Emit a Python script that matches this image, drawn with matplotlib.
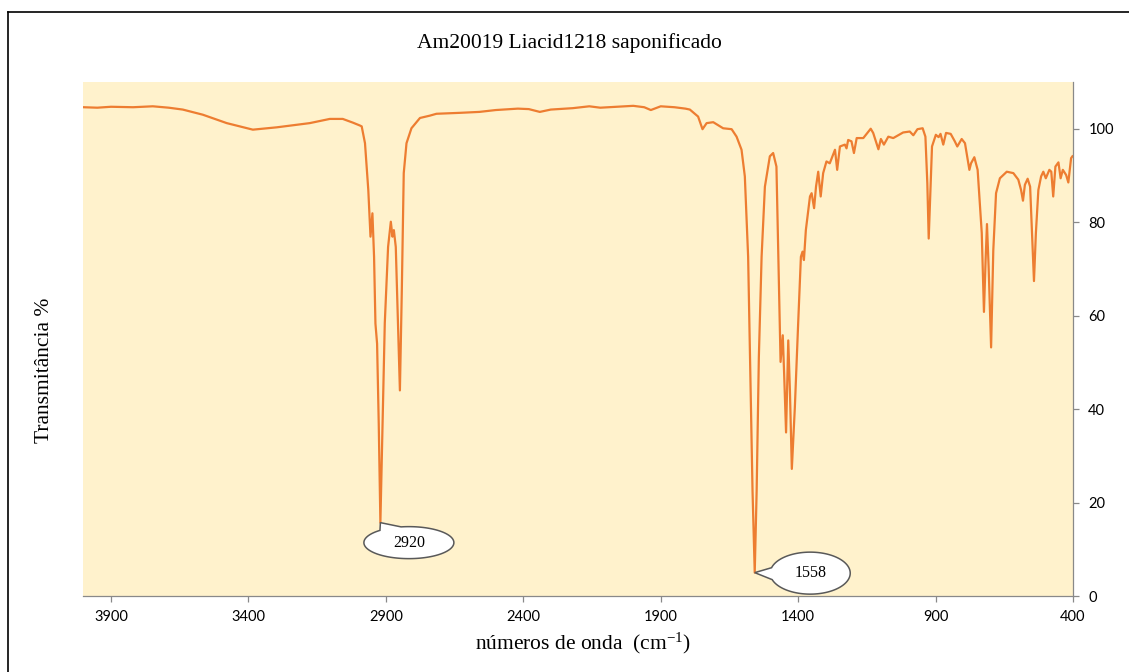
import matplotlib
matplotlib.use("Agg")
import matplotlib.pyplot as plt
import numpy as np
from matplotlib.patches import Polygon
from matplotlib.lines import Line2D
from matplotlib.transforms import ScaledTranslation

plt.rcParams['mathtext.fontset'] = 'custom'
plt.rcParams['mathtext.rm'] = 'Liberation Serif'
plt.rcParams['mathtext.default'] = 'regular'

# spectrum: wavenumber (cm-1), transmittance (%)
wavenumber = [4000, 3950, 3900, 3820, 3748, 3690, 3639, 3566, 3479, 3384, 3297, 3177, 3104, 3057, 3020, 2995,
              2988, 2976, 2964, 2956, 2949, 2943, 2938, 2932, 2926, 2920, 2912, 2904, 2892,
              2882, 2876, 2871, 2864, 2856, 2849, 2842, 2835, 2825, 2807, 2776, 2740, 2716,
              2631, 2560, 2500, 2420, 2380, 2340, 2300, 2220, 2160, 2120, 2060, 2000, 1960,
              1936, 1900, 1850, 1810, 1794, 1764, 1748, 1733, 1709, 1673, 1642, 1624, 1606,
              1594, 1582, 1573, 1566, 1558, 1551, 1543, 1533, 1521, 1503, 1491, 1479, 1472,
              1464, 1456, 1451, 1444, 1436, 1430, 1423, 1412, 1400, 1390, 1384, 1379, 1372,
              1357, 1351, 1342, 1335, 1327, 1318, 1309, 1297, 1285, 1266, 1258, 1248, 1230,
              1224, 1218, 1206, 1197, 1187, 1163, 1136, 1127, 1108, 1099, 1088, 1072, 1054,
              1018, 994, 981, 966, 947, 937, 930, 925, 920, 913, 899, 889, 882, 872, 862,
              845, 830, 821, 805, 793, 777, 771, 759, 747, 732, 724, 718, 713, 707, 698,
              690, 680, 666, 641, 617, 599, 589, 582, 575, 565, 556, 549, 542, 535, 526,
              516, 508, 499, 486, 479, 472, 464, 453, 445, 437, 425, 417, 407, 402]
transmittance = [104.6, 104.5, 104.7, 104.6, 104.8, 104.5, 104.1, 103.0, 101.2, 99.8, 100.3, 101.2, 102.1, 102.1, 101.3, 100.7,
                 100.5, 96.9, 86.9, 76.9, 81.9, 72.6, 58.3, 54.0, 36.9, 15.7, 36.9, 58.4, 74.7,
                 80.1, 76.9, 78.3, 74.7, 58.4, 44.0, 65.5, 90.5, 96.9, 100.1, 102.3, 102.8, 103.2,
                 103.4, 103.6, 104.0, 104.3, 104.2, 103.6, 104.1, 104.4, 104.8, 104.5, 104.7, 104.9, 104.6,
                 104.0, 104.8, 104.6, 104.3, 104.1, 102.6, 99.9, 101.2, 101.4, 100.1, 99.9, 98.3, 95.5,
                 89.8, 72.6, 44.0, 22.5, 5.0, 22.5, 51.1, 72.6, 87.6, 94.1, 94.8, 91.9, 72.6,
                 50.1, 55.8, 47.6, 35.0, 54.7, 44.0, 27.2, 40.4, 58.3, 72.6, 73.7, 71.9, 78.3,
                 85.5, 86.2, 83.0, 87.6, 90.8, 85.5, 90.5, 93.0, 92.6, 95.5, 91.2, 96.2, 96.6,
                 95.8, 97.6, 97.3, 94.8, 98.0, 98.0, 100.0, 99.1, 95.6, 97.8, 96.6, 98.3, 98.0,
                 99.2, 99.4, 98.6, 99.9, 100.1, 98.3, 88.3, 76.5, 84.8, 96.2, 98.7, 98.2, 98.9, 96.6, 99.1,
                 98.9, 97.3, 96.2, 97.8, 96.9, 91.2, 92.6, 93.9, 91.2, 77.7, 60.8, 71.9, 79.6, 70.5, 53.2,
                 74.0, 86.2, 89.4, 90.8, 90.5, 89.1, 86.9, 84.6, 88.0, 89.3, 87.6, 77.7, 67.4, 77.7, 86.9,
                 89.8, 90.8, 89.4, 91.2, 90.8, 85.5, 91.9, 92.8, 89.4, 91.2, 90.1, 88.5, 93.7, 94.1]

x_ticks = [3900, 3400, 2900, 2400, 1900, 1400, 900, 400]
y_ticks = [0, 20, 40, 60, 80, 100]

peak_labels = ["2920", "1558"]
peak_pos = [(2920, 15.7), (1558, 5.0)]

title = "Am20019 Liacid1218 saponificado"
xlabel = r"números de onda  (cm$^{-1}$)"
ylabel = "Transmitância %"

serif = "Liberation Serif"
tickfont = "Lato"

fig = plt.figure(figsize=(11.29, 6.72), dpi=100)
ax = fig.add_axes([83 / 1129, 1 - 596 / 672, (1073 - 83) / 1129, (596 - 82) / 672])
ax.set_facecolor('#FFF2CC')

ax.plot(wavenumber, transmittance, color='#ED7D31', lw=1.6, solid_joinstyle='round')

ax.set_xlim(4002, 400)
ax.set_ylim(0, 110)
ax.set_xticks(x_ticks)
ax.set_yticks(y_ticks)
ax.yaxis.tick_right()

for s in ['top', 'left']:
    ax.spines[s].set_visible(False)
for s in ['right', 'bottom']:
    ax.spines[s].set_color('#898989')
    ax.spines[s].set_linewidth(0.9)

ax.tick_params(axis='both', colors='#898989', labelcolor='black', length=4, width=0.9,
               direction='out')
ax.tick_params(axis='x', pad=6)
ax.tick_params(axis='y', pad=7)
for lab in ax.get_xticklabels() + ax.get_yticklabels():
    lab.set_fontfamily(tickfont)
    lab.set_fontsize(10.5)

fig.text(569 / 1129, 1 - 43 / 672, title, ha='center', va='center',
         fontfamily=serif, fontsize=15.5)
fig.text(583 / 1129, 1 - 643 / 672, xlabel, ha='center', va='center',
         fontfamily=serif, fontsize=15.5)
fig.text(45 / 1129, 1 - 370 / 672, ylabel, ha='center', va='center', rotation=90,
         fontfamily=serif, fontsize=15.5)


def callout(ax, pos, label, center, size, wedge):
    # ellipse callout anchored on the peak, offsets in inches
    trans = fig.dpi_scale_trans + ScaledTranslation(pos[0], pos[1], ax.transData)
    cx, cy = center
    a, b = size[0] / 2, size[1] / 2
    th1, th2 = np.radians(wedge[0]), np.radians(wedge[1])
    th = np.linspace(th2, th1 + 2 * np.pi, 120)
    pts = [(cx + a * np.cos(t), cy + b * np.sin(t)) for t in th]
    pts.append((0, 0))
    poly = Polygon(pts, closed=True, facecolor='white', edgecolor='#595959', lw=1.1,
                   transform=trans, zorder=5, clip_on=False)
    ax.add_patch(poly)
    ax.text(cx, cy, label, transform=trans, ha='center', va='center',
            fontfamily=serif, fontsize=11.5, zorder=6)


callout(ax, peak_pos[0], peak_labels[0], (0.285, -0.20), (0.90, 0.32), (100, 130))
callout(ax, peak_pos[1], peak_labels[1], (0.555, -0.005), (0.80, 0.42), (165, 198))

# chart outline (only top and left edges fall inside the picture)
fig.add_artist(Line2D([8 / 1129, 1.0], [1 - 12 / 672, 1 - 12 / 672], color='black',
                      lw=1.2, transform=fig.transFigure))
fig.add_artist(Line2D([8 / 1129, 8 / 1129], [1 - 12 / 672, 0.0], color='black',
                      lw=1.2, transform=fig.transFigure))

fig.savefig('out.png', dpi=100)
